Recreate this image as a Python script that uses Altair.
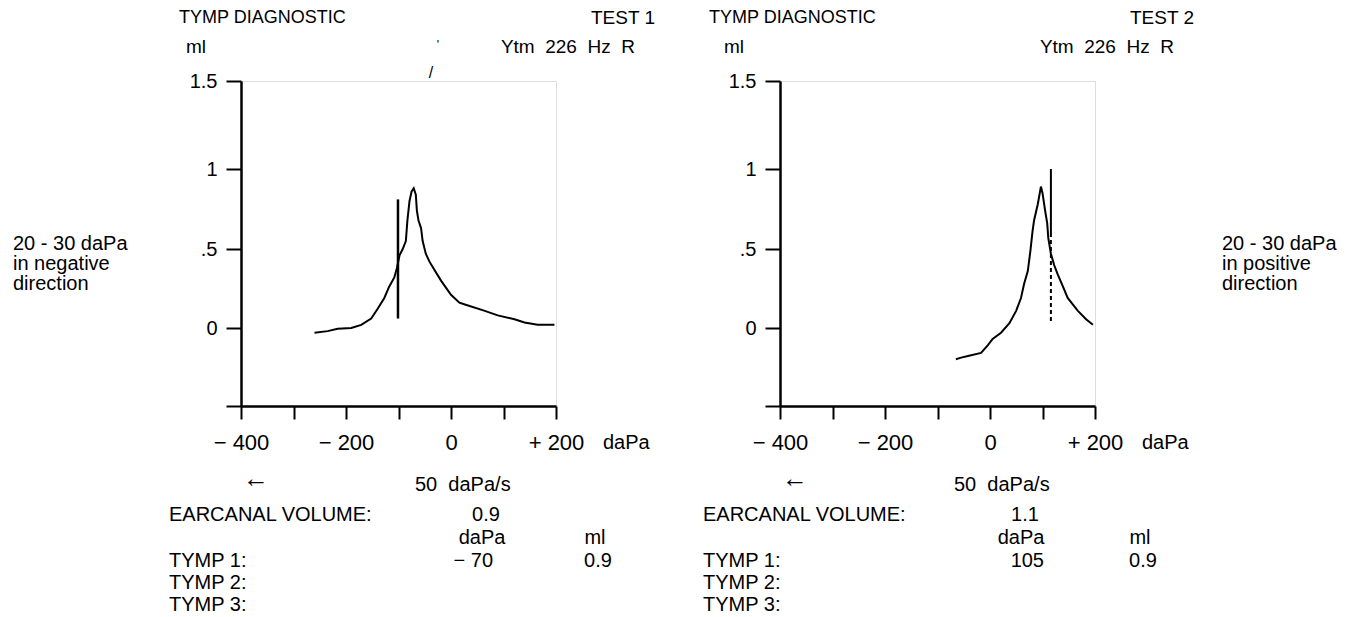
import altair as alt
import pandas as pd

# ---------------- data ----------------
# TEST 1 (left) tympanogram trace: pressure (daPa) and admittance (ml)
t1_x = [-260, -235, -216, -190, -171, -152, -140, -127, -118, -108, -103, -98, -92, -86,
        -83, -79, -75, -71, -67, -65, -62, -57, -54, -48, -41, -32, -19, 0, 16, 25, 63,
        89, 121, 140, 165, 197]
t1_y = [-0.03, -0.02, -0.005, 0.0, 0.02, 0.06, 0.12, 0.19, 0.26, 0.32, 0.38, 0.46, 0.50,
        0.55, 0.68, 0.80, 0.86, 0.88, 0.84, 0.74, 0.68, 0.63, 0.55, 0.47, 0.42, 0.37, 0.30,
        0.21, 0.16, 0.15, 0.11, 0.08, 0.055, 0.035, 0.02, 0.02]
# TEST 2 (right) tympanogram trace
t2_x = [-65, -55, -42, -17, -4, 5, 21, 37, 50, 59, 65, 72, 77, 81, 84, 91, 97, 100, 105,
        109, 111, 116, 122, 129, 138, 148, 167, 183, 196]
t2_y = [-0.20, -0.19, -0.18, -0.16, -0.11, -0.07, -0.03, 0.03, 0.11, 0.19, 0.28, 0.36,
        0.49, 0.61, 0.68, 0.78, 0.89, 0.85, 0.74, 0.66, 0.57, 0.47, 0.40, 0.34, 0.27,
        0.19, 0.11, 0.055, 0.02]
# vertical artefact spikes: x, low, high
t1_spike = [-101, 0.06, 0.81]
t2_spike = [116, 0.035, 1.0]
t2_spike_split = 0.6

# axes
x_ticks = [-400, -300, -200, -100, 0, 100, 200]
y_ticks = [-0.5, 0, 0.5, 1, 1.5]

# report values
test_names = ["TEST 1", "TEST 2"]
probe = "Ytm\u00a0\u00a0226\u00a0\u00a0Hz\u00a0\u00a0R"
ear_volume = ["0.9", "1.1"]
tymp1_dapa = ["\u2212 70", "105"]
tymp1_ml = ["0.9", "0.9"]
side_notes = [["20 - 30 daPa", "in negative", "direction"],
              ["20 - 30 daPa", "in positive", "direction"]]

# ---------------- layout ----------------
FONT = "Liberation Sans"
W, H = 315, 325
Y_RANGE = [325, 247, 168, 88, 0]

x_label_expr = ("datum.value == -400 ? '\u2212 400' : datum.value == -200 ? '\u2212 200' : "
                "datum.value == 0 ? '0' : datum.value == 200 ? '+ 200' : ''")
y_label_expr = ("datum.value == 1.5 ? '1.5' : datum.value == 1 ? '1' : "
                "datum.value == 0.5 ? '.5' : datum.value == 0 ? '0' : ''")


def panel(i, xs, ys, spike, dashed, head_dx, ml_dx, left_dx, val_right, ml_c, side_dx):
    curve = pd.DataFrame({"x": xs, "y": ys, "i": list(range(len(xs)))})
    xscale = alt.Scale(domain=[-400, 200], nice=False, zero=False)
    yscale = alt.Scale(domain=y_ticks, range=Y_RANGE, nice=False, zero=False)
    xaxis = alt.Axis(values=x_ticks, labelExpr=x_label_expr, title=None, grid=False,
                     domainColor="black", domainWidth=2.5, tickColor="black", tickWidth=2,
                     tickSize=13, labelFont=FONT, labelFontSize=22, labelColor="black",
                     labelPadding=13, labelFlush=False, labelOverlap=False)
    yaxis = alt.Axis(values=y_ticks, labelExpr=y_label_expr, title=None, grid=False,
                     domainColor="black", domainWidth=2.5, tickColor="black", tickWidth=2,
                     tickSize=15, labelFont=FONT, labelFontSize=20, labelColor="black",
                     labelPadding=9, labelFlush=False, labelOverlap=False)
    line = alt.Chart(curve).mark_line(color="black", strokeWidth=2).encode(
        x=alt.X("x:Q", scale=xscale, axis=xaxis),
        y=alt.Y("y:Q", scale=yscale, axis=yaxis),
        order="i:Q",
    )
    layers = [line]
    if dashed:
        sp1 = pd.DataFrame({"x": [spike[0]], "y": [spike[2]], "y2": [t2_spike_split]})
        sp2 = pd.DataFrame({"x": [spike[0]], "y": [t2_spike_split], "y2": [spike[1]]})
        layers.append(alt.Chart(sp1).mark_rule(color="black", strokeWidth=2).encode(
            x=alt.X("x:Q", scale=xscale), y=alt.Y("y:Q", scale=yscale), y2="y2:Q"))
        layers.append(alt.Chart(sp2).mark_rule(color="black", strokeWidth=2,
                                               strokeDash=[4, 3]).encode(
            x=alt.X("x:Q", scale=xscale), y=alt.Y("y:Q", scale=yscale), y2="y2:Q"))
    else:
        sp = pd.DataFrame({"x": [spike[0]], "y": [spike[2]], "y2": [spike[1]]})
        layers.append(alt.Chart(sp).mark_rule(color="black", strokeWidth=2.5).encode(
            x=alt.X("x:Q", scale=xscale), y=alt.Y("y:Q", scale=yscale), y2="y2:Q"))

    left_rows = [
        ("TYMP DIAGNOSTIC", head_dx, -63, 18),
        ("ml", ml_dx, -34, 19),
        ("daPa", 362, 362, 20),
        ("50\u00a0\u00a0daPa/s", 174, 404, 20),
        ("EARCANAL VOLUME:", left_dx, 434, 20),
        ("TYMP 1:", left_dx, 480, 20),
        ("TYMP 2:", left_dx, 502, 20),
        ("TYMP 3:", left_dx, 524, 20),
    ] + [(s, side_dx, 163 + 20 * k, 20) for k, s in enumerate(side_notes[i])]
    center_rows = [
        ("\u2190", 15, 398, 26),
        (ear_volume[i], 245, 434, 20),
        ("daPa", 241, 457, 20),
        ("ml", ml_c, 457, 20),
        (tymp1_ml[i], ml_c + 3, 480, 20),
    ]
    right_rows = [
        (test_names[i], 414, -63, 19),
        (probe, 394, -34, 19),
        (tymp1_dapa[i], val_right, 480, 20),
    ]
    if i == 0:
        # scanner marks near the first header
        center_rows += [("/", 190, -8, 16), ("'", 197, -36, 12)]
    for rows, al in ((left_rows, "left"), (center_rows, "center"), (right_rows, "right")):
        df = pd.DataFrame(rows, columns=["t", "px", "py", "fs"])
        layers.append(alt.Chart(df).mark_text(font=FONT, color="black", align=al,
                                              baseline="middle").encode(
            x=alt.X("px:Q", scale=None),
            y=alt.Y("py:Q", scale=None),
            size=alt.Size("fs:Q", scale=None),
            text="t:N",
        ))
    return alt.layer(*layers).properties(width=W, height=H)


left = panel(0, t1_x, t1_y, t1_spike, False, -62, -55, -72, 252, 354, -228)
right = panel(1, t2_x, t2_y, t2_spike, True, -71, -56, -77, 264, 360, 442)

chart = alt.hconcat(left, right, spacing=224, bounds="flush").properties(
    padding={"left": 4, "top": 0, "right": 0, "bottom": 0}
).configure_view(stroke=None).configure(background="white")

chart.save("out.html", embed_options={"renderer": "svg", "actions": False})
